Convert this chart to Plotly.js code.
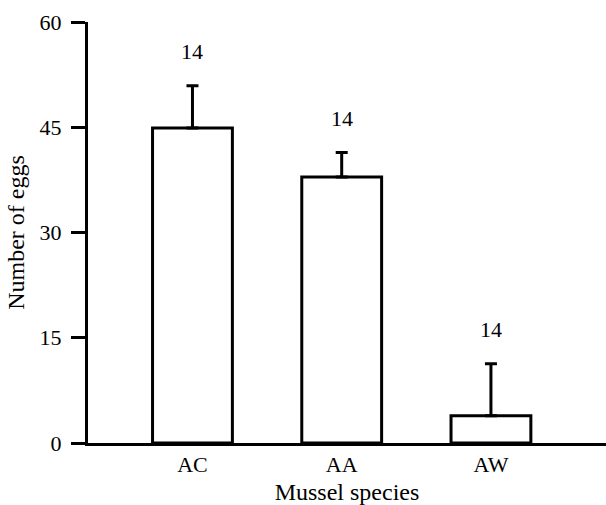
<!DOCTYPE html>
<html>
<head>
<meta charset="utf-8">
<script src="https://cdn.plot.ly/plotly-3.0.1.min.js"></script>
<style>html,body{margin:0;padding:0;background:#fff;}#chart{width:606px;height:505px;}</style>
</head>
<body>
<div id="chart"></div>
<script>
var species = ["AC", "AA", "AW"];
var meanEggs = [44.9, 37.9, 3.9];
var errEggs = [6.0, 3.5, 7.4];
var sampleN = ["14", "14", "14"];
var yTicks = [0, 15, 30, 45, 60];

var font = {family: "Liberation Serif, Times New Roman, serif", size: 22, color: "#000"};
var titleFont = {family: "Liberation Serif, Times New Roman, serif", size: 24, color: "#000"};

var trace = {
  type: "bar",
  x: species,
  y: meanEggs,
  width: 0.535,
  marker: {color: "#fff", line: {color: "#000", width: 3}},
  error_y: {type: "data", symmetric: false, array: errEggs, arrayminus: [0, 0, 0],
            color: "#000", thickness: 3, width: 6},
  hoverinfo: "none"
};

var annotations = species.map(function (s, i) {
  return {x: s, y: meanEggs[i] + errEggs[i], text: sampleN[i], showarrow: false,
          yshift: 34, font: font, xref: "x", yref: "y"};
});

var layout = {
  width: 606, height: 505,
  margin: {l: 88, r: 0, t: 22, b: 62},
  paper_bgcolor: "#fff", plot_bgcolor: "#fff",
  font: font,
  showlegend: false,
  xaxis: {
    range: [-0.700, 2.771],
    showline: true, linecolor: "#000", linewidth: 3,
    ticks: "", showgrid: false, zeroline: false,
    tickfont: font,
    title: {text: "Mussel species", font: titleFont, standoff: 9}
  },
  yaxis: {
    range: [0, 60],
    tickvals: yTicks,
    ticktext: yTicks.map(String),
    showline: true, linecolor: "#000", linewidth: 3,
    ticks: "outside", ticklen: 14, tickwidth: 3, tickcolor: "#000",
    ticklabelstandoff: 5,
    showgrid: false, zeroline: false,
    tickfont: font,
    title: {text: "Number of eggs", font: titleFont, standoff: 9}
  },
  annotations: annotations
};

Plotly.newPlot("chart", [trace], layout, {displayModeBar: false, staticPlot: true});
</script>
</body>
</html>
